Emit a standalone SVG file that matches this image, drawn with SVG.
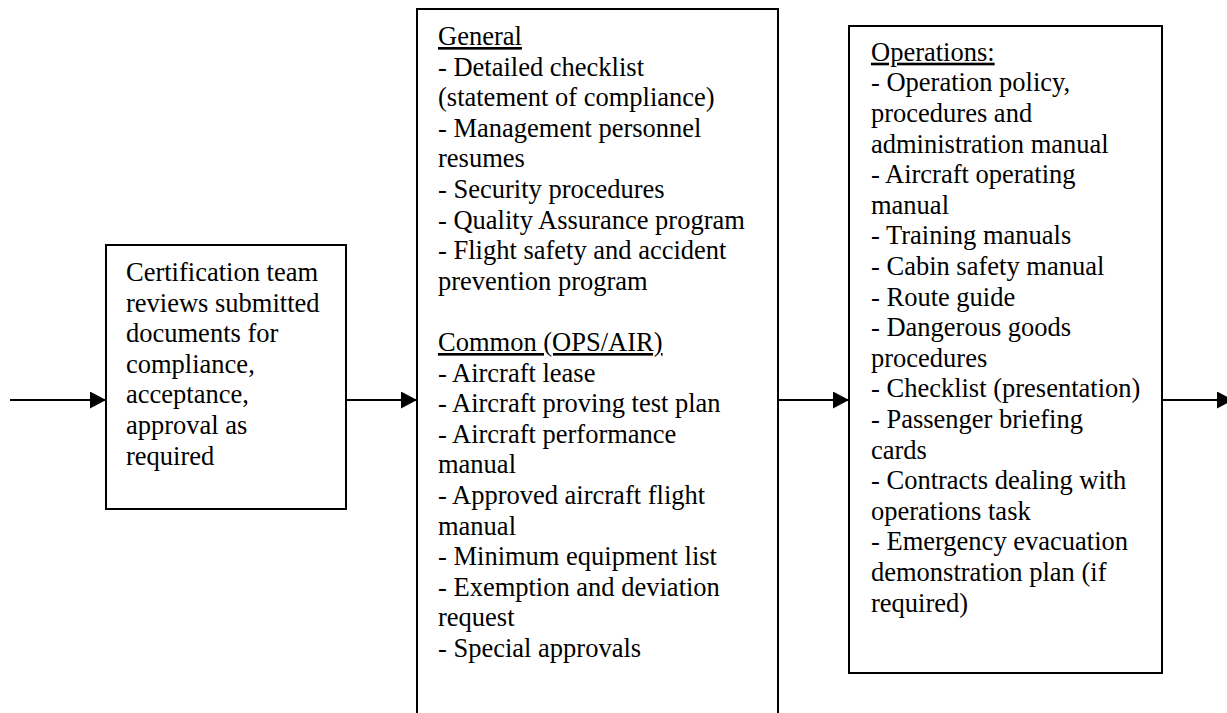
<svg xmlns="http://www.w3.org/2000/svg" width="1227" height="713" viewBox="0 0 1227 713">
<style>
.box{fill:#fff;stroke:#000;stroke-width:2}
.t{font-family:"Liberation Serif","Times New Roman",serif;font-size:26.5px;fill:#000}
.u{text-decoration:underline}
.c{stroke:#000;stroke-width:2;fill:none}
</style>
<defs>
<marker id="ah" markerUnits="userSpaceOnUse" markerWidth="17" markerHeight="17" refX="16" refY="8.5" orient="auto">
<path d="M0,0 L16,8.5 L0,17 Z" fill="#000"/>
</marker>
</defs>
<rect width="1227" height="713" fill="#fff"/>
<g id="node-review">
<rect class="box" x="106" y="245" width="240" height="264"/>
<text class="t" x="126" y="281">
<tspan x="126" y="281">Certification team</tspan>
<tspan x="126" y="311.6">reviews submitted</tspan>
<tspan x="126" y="342.2">documents for</tspan>
<tspan x="126" y="372.8">compliance,</tspan>
<tspan x="126" y="403.4">acceptance,</tspan>
<tspan x="126" y="434">approval as</tspan>
<tspan x="126" y="464.6">required</tspan>
</text>
</g>
<g id="node-general">
<rect class="box" x="417" y="9" width="361" height="720"/>
<text class="t" x="438" y="45">
<tspan class="u" x="438" y="45">General</tspan>
<tspan x="438" y="75.6">- Detailed checklist</tspan>
<tspan x="438" y="106.2">(statement of compliance)</tspan>
<tspan x="438" y="136.8">- Management personnel</tspan>
<tspan x="438" y="167.4">resumes</tspan>
<tspan x="438" y="198">- Security procedures</tspan>
<tspan x="438" y="228.6">- Quality Assurance program</tspan>
<tspan x="438" y="259.2">- Flight safety and accident</tspan>
<tspan x="438" y="289.8">prevention program</tspan>
<tspan class="u" x="438" y="351">Common (OPS/AIR)</tspan>
<tspan x="438" y="381.6">- Aircraft lease</tspan>
<tspan x="438" y="412.2">- Aircraft proving test plan</tspan>
<tspan x="438" y="442.8">- Aircraft performance</tspan>
<tspan x="438" y="473.4">manual</tspan>
<tspan x="438" y="504">- Approved aircraft flight</tspan>
<tspan x="438" y="534.6">manual</tspan>
<tspan x="438" y="565.2">- Minimum equipment list</tspan>
<tspan x="438" y="595.8">- Exemption and deviation</tspan>
<tspan x="438" y="626.4">request</tspan>
<tspan x="438" y="657">- Special approvals</tspan>
</text>
</g>
<g id="node-operations">
<rect class="box" x="849" y="26" width="313" height="647"/>
<text class="t" x="871" y="60.7">
<tspan class="u" x="871" y="60.7">Operations:</tspan>
<tspan x="871" y="91.3">- Operation policy,</tspan>
<tspan x="871" y="121.9">procedures and</tspan>
<tspan x="871" y="152.5">administration manual</tspan>
<tspan x="871" y="183.1">- Aircraft operating</tspan>
<tspan x="871" y="213.7">manual</tspan>
<tspan x="871" y="244.3">- Training manuals</tspan>
<tspan x="871" y="274.9">- Cabin safety manual</tspan>
<tspan x="871" y="305.5">- Route guide</tspan>
<tspan x="871" y="336.1">- Dangerous goods</tspan>
<tspan x="871" y="366.7">procedures</tspan>
<tspan x="871" y="397.3">- Checklist (presentation)</tspan>
<tspan x="871" y="427.9">- Passenger briefing</tspan>
<tspan x="871" y="458.5">cards</tspan>
<tspan x="871" y="489.1">- Contracts dealing with</tspan>
<tspan x="871" y="519.7">operations task</tspan>
<tspan x="871" y="550.3">- Emergency evacuation</tspan>
<tspan x="871" y="580.9">demonstration plan (if</tspan>
<tspan x="871" y="611.5">required)</tspan>
</text>
</g>
<g id="connectors">
<line class="c" x1="10" y1="400" x2="106" y2="400" marker-end="url(#ah)"/>
<line class="c" x1="346" y1="400" x2="417" y2="400" marker-end="url(#ah)"/>
<line class="c" x1="778" y1="400" x2="849" y2="400" marker-end="url(#ah)"/>
<line class="c" x1="1162" y1="400" x2="1233" y2="400" marker-end="url(#ah)"/>
</g>
</svg>
